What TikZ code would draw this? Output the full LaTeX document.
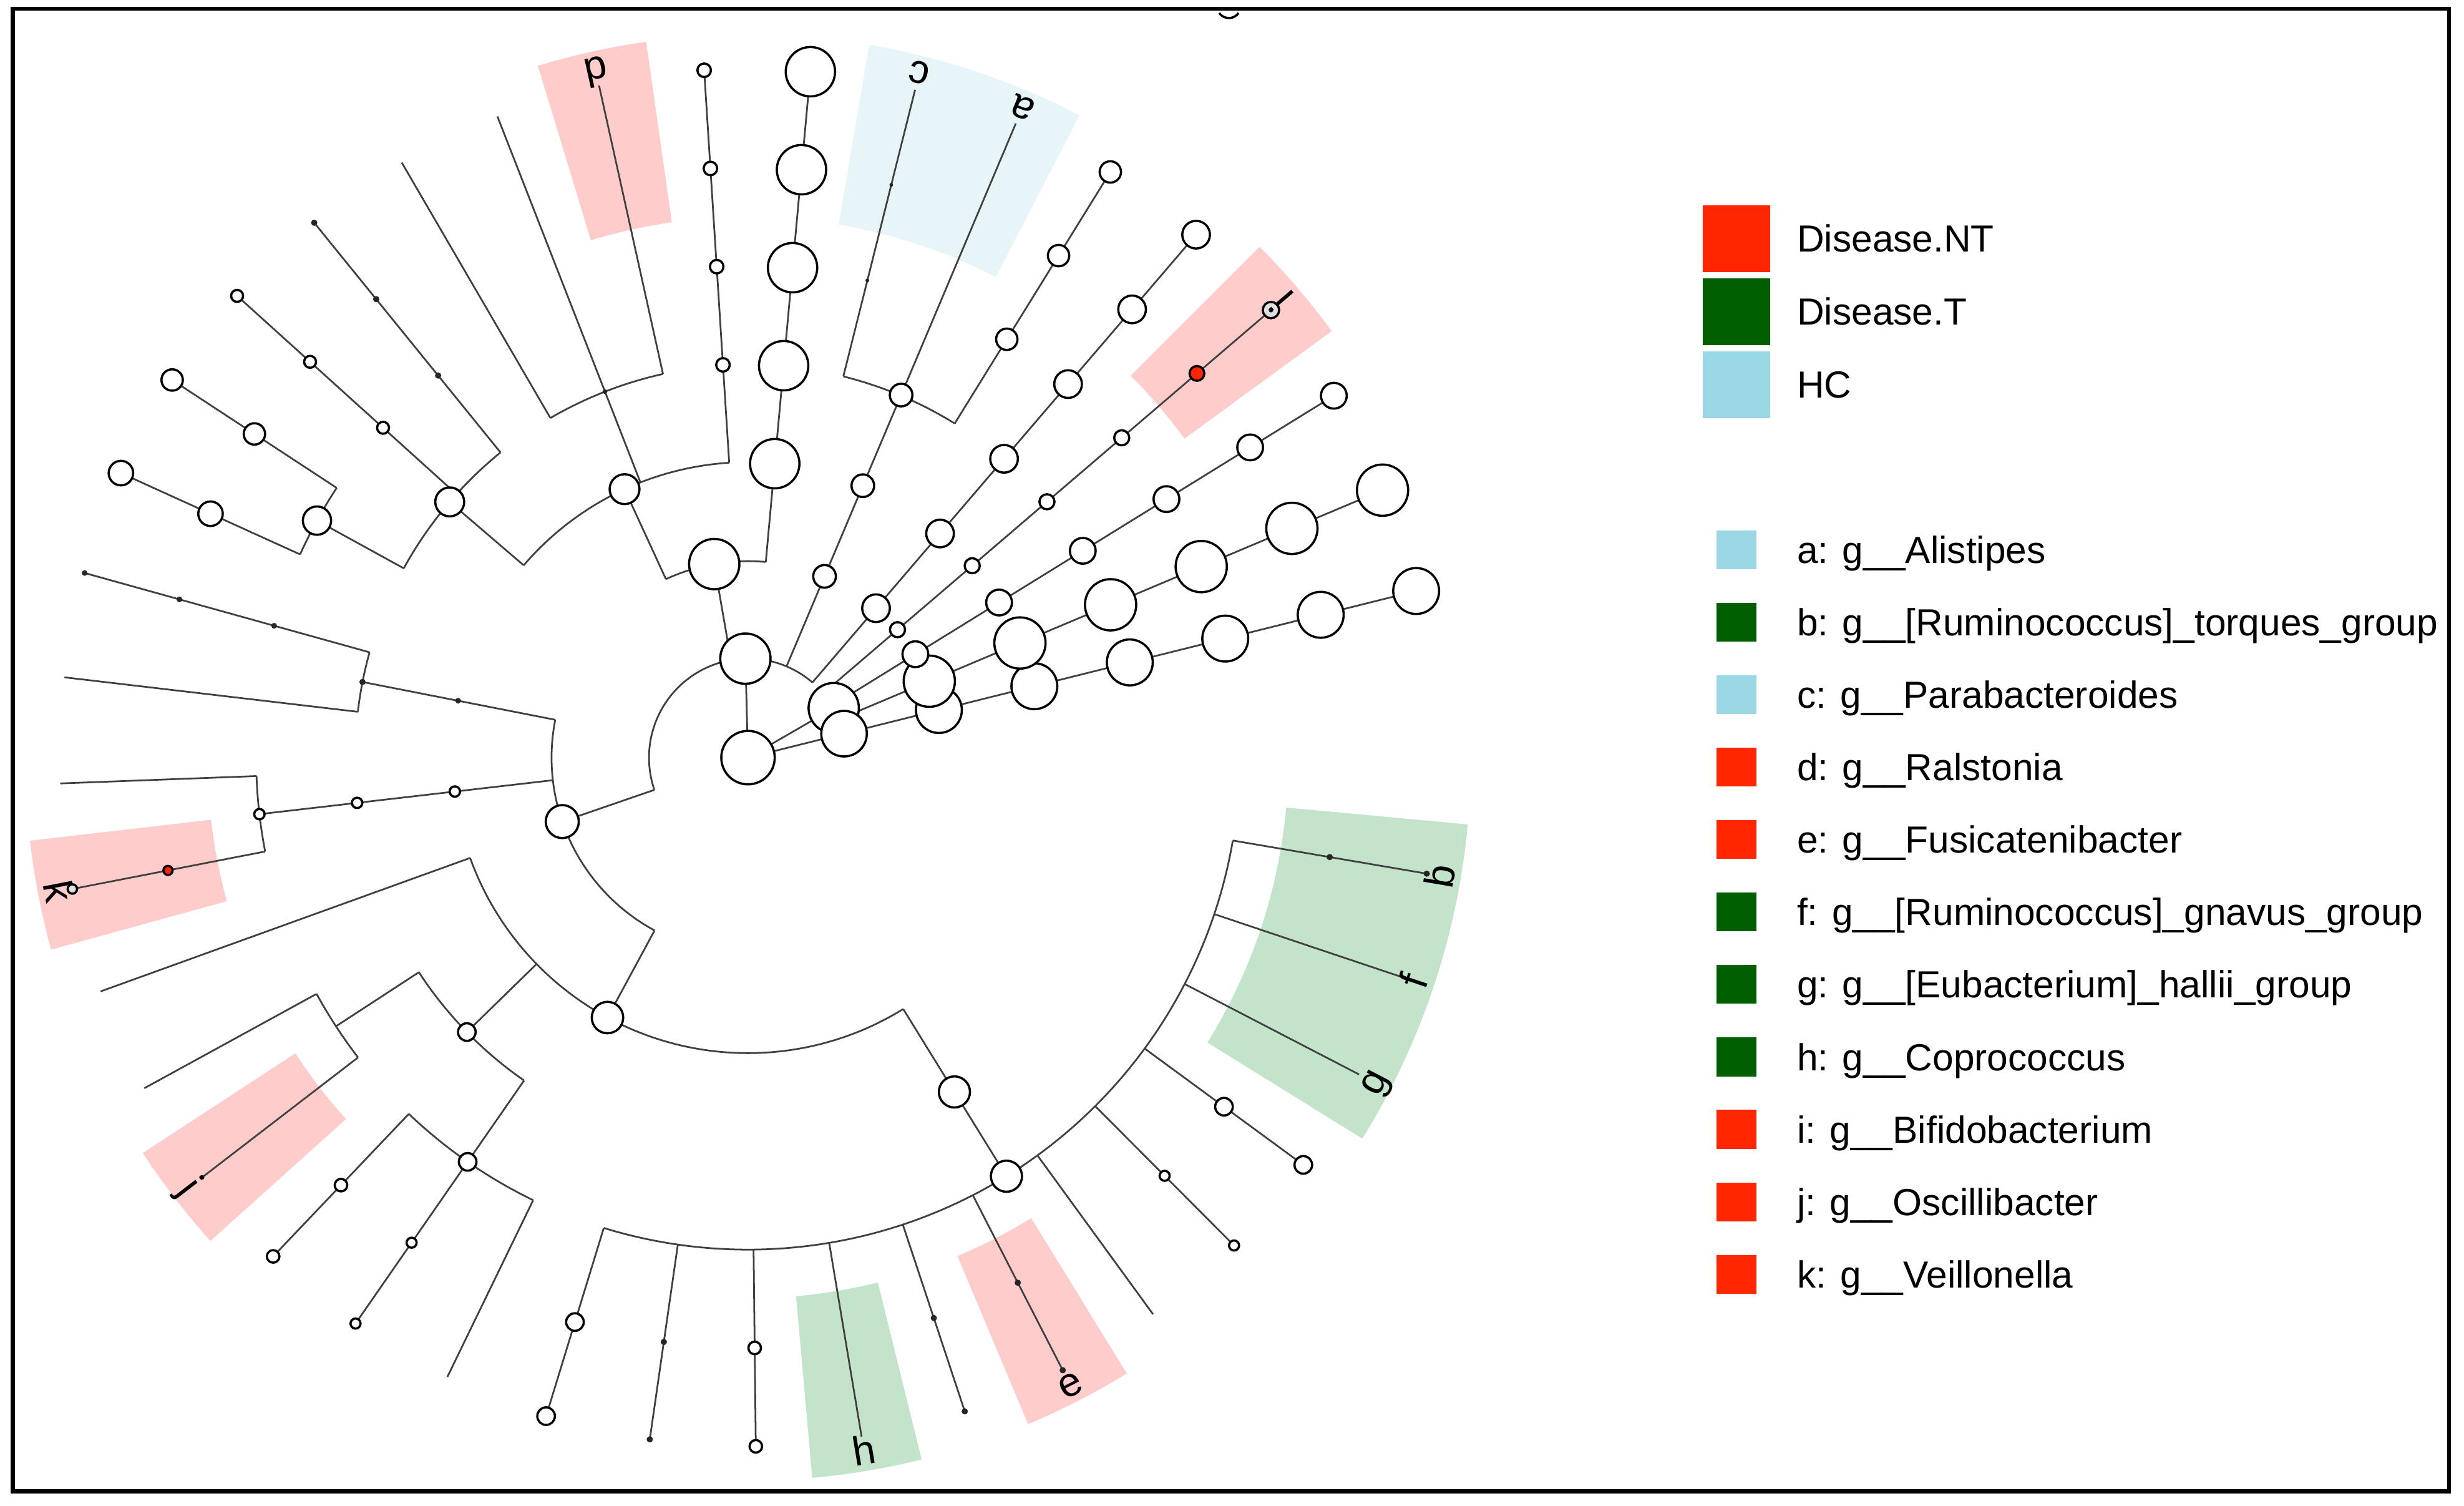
\documentclass[tikz,border=0pt]{standalone}
\usepackage{fontspec}
\setmainfont{Liberation Sans}
\definecolor{NTRed}{HTML}{FF2600}
\definecolor{TGreen}{HTML}{005F00}
\definecolor{HCBlue}{HTML}{9AD8E6}
\definecolor{ShadeRed}{HTML}{FFCCCC}
\definecolor{ShadeGreen}{HTML}{C4E3CB}
\definecolor{ShadeBlue}{HTML}{E8F5F8}
\newcommand{\spoke}[3]{\draw[twig] (#1:#2) -- (#1:#3);}
\newcommand{\ringarc}[3]{\draw[twig] (#2:#1) arc[start angle=#2, end angle=#3, radius=#1];}
\newcommand{\cladebg}[3]{\fill[#1] (#2:344) arc[start angle=#2, end angle=#3, radius=344] -- (#3:460) arc[start angle=#3, end angle=#2, radius=460] -- cycle;}

\begin{document}
\begin{tikzpicture}[x=1pt, y=1pt,
    twig/.style={line width=1.1pt, black!75},
    bub/.style={circle, draw, line width=1.4pt, fill=white, inner sep=0pt, minimum size=#1},
    tinydot/.style={circle, fill=black!85, inner sep=0pt, minimum size=#1},
    leaflab/.style={font=\fontsize{26}{30}\selectfont, inner sep=0pt, anchor=base},
    bigkey/.style={inner sep=0pt, minimum width=42.8pt, minimum height=42.5pt},
    smallkey/.style={inner sep=0pt, minimum width=25.5pt, minimum height=24.7pt},
    keytext/.style={font=\fontsize{24}{28}\selectfont, inner sep=0pt, anchor=base west}]
  \useasboundingbox (-476,-476) rectangle (1092,482);

  \cladebg{ShadeBlue}{62.7}{80.35}
  \cladebg{ShadeRed}{98.1}{106.9}
  \cladebg{ShadeRed}{36.15}{44.95}
  \cladebg{ShadeRed}{186.6}{195.4}
  \cladebg{ShadeRed}{213.15}{221.95}
  \cladebg{ShadeGreen}{275.1}{283.9}
  \cladebg{ShadeRed}{292.8}{301.6}
  \cladebg{ShadeGreen}{328.2}{354.7}

  \foreach \t/\a/\b in {91.5/0/63, 30/0/63, 14/0/63, 99.9/63/125, 114.7/125/188, 139.4/188/250,
      151.2/250/313, 199/63/125, 168.9/125/250, 186.6/125/313, 241.6/125/188, 224.3/188/250,
      213.1/250/313, 235.25/250/313, 301.7/188/313}
    {\spoke{\t}{\a}{\b}}
  \foreach \k/\a in {0/63, 1/63, 2/63, 3/63, 4/63, 5/250, 6/63, 7/250, 8/125, 9/188, 10/250, 11/188,
      12/250, 13/250, 14/250, 15/313, 16/313, 17/250, 18/250, 19/313, 20/313, 21/188, 22/313, 23/313,
      24/313, 25/313, 26/313, 27/313, 28/313, 29/313, 30/313, 31/313, 32/313, 33/313, 34/313,
      35/313, 36/313, 37/313, 38/313}
    {\pgfmathsetmacro\t{14+8.85*\k} \spoke{\t}{\a}{438}}
  \foreach \r/\a/\b in {63/49.4/199, 63/22.85/40.55, 250/58.25/75.95, 125/84.8/114.7, 188/93.65/139.4,
      250/102.5/120.2, 250/129.05/151.2, 313/146.75/155.6, 125/168.9/241.6, 250/164.45/173.3,
      313/182.15/191, 188/199.85/301.7, 250/213.1/235.25, 313/208.7/217.55, 313/226.4/244.1,
      313/252.95/350.3}
    {\ringarc{\r}{\a}{\b}}

  \node[bub=34] (root) at (0,0) {};
  \node[bub=32] (p1) at (91.5:63) {};
  \node[bub=32] (p2) at (30:63) {};
  \node[bub=29] (p3) at (14:63) {};
  \node[bub=32] (c1) at (99.9:125) {};
  \node[bub=21] (c2) at (199:125) {};
  \node[bub=19] (o1) at (114.7:188) {};
  \node[bub=18.4] (o2) at (139.4:250) {};
  \node[bub=18] (o3) at (151.2:313) {};
  \node[bub=20] (o4) at (241.6:188) {};
  \node[bub=11.2] (f2) at (224.3:250) {};
  \node[bub=11.2] (f4) at (235.25:313) {};
  \node[bub=19.8] (f3) at (301.7:250) {};
  \node[bub=19.8] (g3) at (301.7:313) {};
  \foreach \l in {3,4,5}
    \node[bub=6.6] (m\l) at (186.6:62.6*\l) {};
  \foreach \k/\s/\lo/\hi in {0/29.2/2/7, 1/32.6/2/7, 2/16.4/2/7, 3/9.6/2/5, 4/17.6/2/7, 6/14.4/2/4,
      5/13.6/5/7, 8/31.4/3/7, 9/8.6/4/7, 14/7.6/5/7, 15/13.6/6/7, 16/15.6/6/7, 24/8/6/7,
      25/6.4/6/7, 27/11.2/6/7, 29/8/6/7, 34/6.4/6/7, 35/11.2/6/7}
    \foreach \l in {\lo,...,\hi} {
      \pgfmathsetmacro\t{14+8.85*\k}
      \node[bub=\s] (n\k-\l) at (\t:62.6*\l) {};
    }
  \foreach \k/\s/\lo/\hi in {7/2.4/5/6, 13/4/5/7, 17/3.6/5/7, 23/3/7/7, 28/4/6/7, 31/4/6/7,
      32/4/6/7, 38/4/6/7}
    \foreach \l in {\lo,...,\hi} {
      \pgfmathsetmacro\t{14+8.85*\k}
      \node[tinydot=\s] (d\k-\l) at (\t:62.6*\l) {};
    }
  \node[tinydot=3] (fp) at (111.35:250) {};
  \node[tinydot=3.6] (fa) at (168.9:188) {};
  \node[tinydot=4] (fb) at (168.9:250) {};
  \node[bub=9.4, fill=NTRed] (redi) at (40.55:376) {};
  \node[bub=10.4, fill=black!12] (endi) at (40.55:438) {};
  \node[tinydot=3] (endidot) at (endi) {};
  \node[bub=5.8, fill=NTRed] (redk) at (191:376) {};
  \node[bub=6, fill=black!12] (endk) at (191:438) {};

  \foreach \k/\txt in {6/a, 38/b, 7/c, 10/d, 32/e, 37/f, 36/g, 30/h, 3/i, 23/j, 20/k} {
    \pgfmathsetmacro\t{14+8.85*\k}
    \node[leaflab, rotate=\t+90] (lab\txt) at (\t:456) {\txt};
  }

  \node[bigkey, fill=NTRed] (keynt) at (629,330.3) {};
  \node[bigkey, fill=TGreen] (keyt) at (629,283.8) {};
  \node[bigkey, fill=HCBlue] (keyhc) at (629,237.3) {};
  \node[keytext] (txtnt) at (667.4,321.7) {Disease.NT};
  \node[keytext] (txtt) at (667.4,275.2) {Disease.T};
  \node[keytext] (txthc) at (667.4,228.7) {HC};
  \foreach \n/\c/\txt [count=\r from 0] in {a/HCBlue/Alistipes, b/TGreen/{[Ruminococcus]\_torques\_group},
      c/HCBlue/Parabacteroides, d/NTRed/Ralstonia, e/NTRed/Fusicatenibacter,
      f/TGreen/{[Ruminococcus]\_gnavus\_group}, g/TGreen/{[Eubacterium]\_hallii\_group},
      h/TGreen/Coprococcus, i/NTRed/Bifidobacterium, j/NTRed/Oscillibacter, k/NTRed/Veillonella} {
    \node[smallkey, fill=\c] (key\n) at (629,132.3-46.1*\r) {};
    \node[keytext] (txt\n) at (667.4,123.7-46.1*\r) {\n: g\_\_\txt};
  }

  \draw[line width=2.5pt] (-467.8,476.4) rectangle (1082.4,-466.8);
  \draw[line width=1.4pt] (306,478) ++(215:7.5) arc[start angle=215, end angle=325, radius=7.5];
\end{tikzpicture}
\end{document}
